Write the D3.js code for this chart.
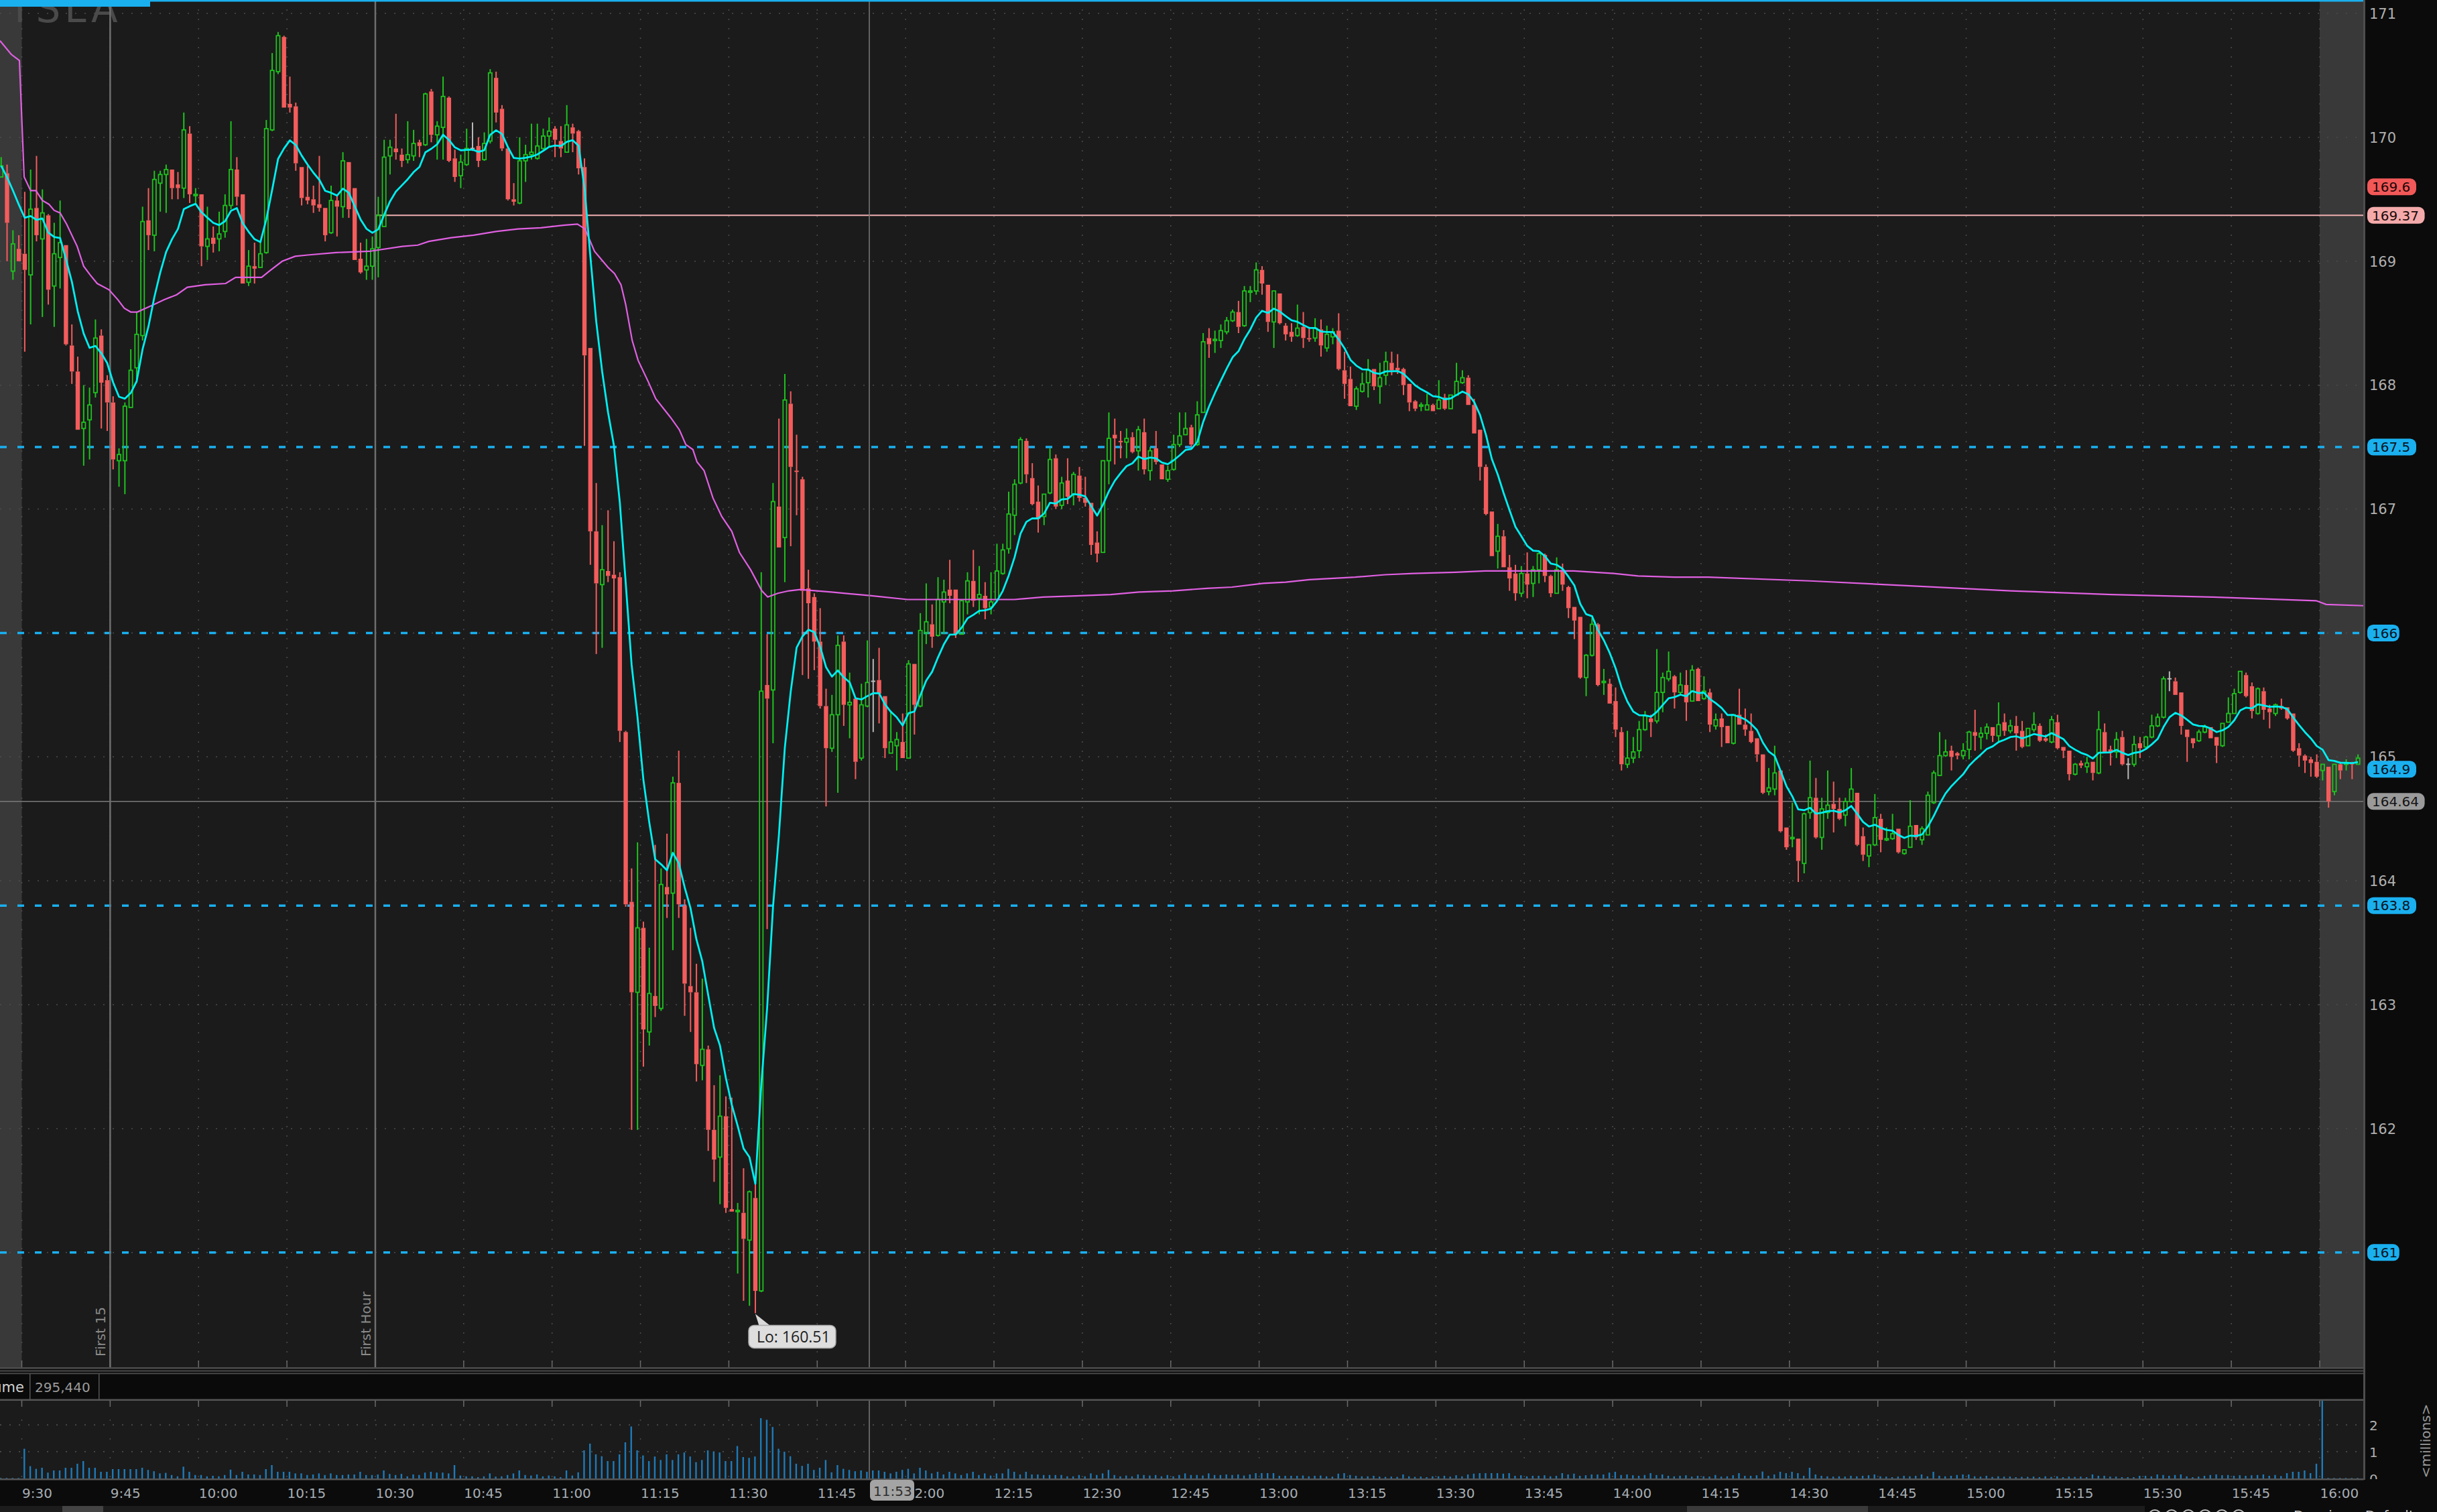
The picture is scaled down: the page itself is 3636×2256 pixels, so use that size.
<!DOCTYPE html>
<html><head><meta charset="utf-8">
<script src="https://cdn.jsdelivr.net/npm/d3@7"></script>
<style>html,body{margin:0;padding:0;background:#0b0b0b;overflow:hidden}</style>
</head><body>
<svg id="c" width="3636" height="2256"></svg>
<script>
// ---------- DATA ----------
const symbol = "TSLA";
const firstMinute = -4; // first candle = 9:26 (minutes from 9:30)
// one-minute candles: [open, high, low, close]
const candles = [
[169.68,169.84,169.68,169.77],[169.71,169.78,169.00,169.31],[168.92,169.25,168.85,169.14],[169.10,169.21,169.00,169.00],
[169.06,169.56,168.27,168.93],[168.89,169.74,168.49,169.42],[169.43,169.85,169.16,169.21],[169.18,169.58,168.55,169.39],[169.37,169.38,168.65,168.77],
[168.80,169.31,168.47,169.06],[169.03,169.49,168.78,169.15],[169.13,169.13,168.32,168.33],[168.32,168.49,168.01,168.11],[168.11,168.23,167.64,167.64],
[167.65,168.00,167.35,167.70],[167.72,167.98,167.40,167.84],[167.94,168.53,167.90,168.38],[168.40,168.45,167.65,168.02],[168.04,168.08,167.63,167.86],
[167.86,167.91,167.32,167.40],[167.39,167.49,167.18,167.44],[167.39,167.86,167.12,167.83],[167.82,168.29,167.82,168.12],[168.14,168.59,168.02,168.41],
[168.40,169.44,168.36,169.32],[169.33,169.59,169.09,169.21],[169.21,169.73,169.08,169.66],[169.63,169.73,169.40,169.70],[169.70,169.78,169.39,169.74],
[169.74,169.74,169.50,169.59],[169.62,169.72,169.50,169.59],[169.59,170.20,169.51,170.06],[170.03,170.09,169.47,169.54],[169.53,169.59,169.47,169.54],
[169.54,169.54,168.96,169.12],[169.12,169.44,169.01,169.18],[169.19,169.28,169.07,169.14],[169.18,169.40,169.08,169.22],[169.24,169.54,169.19,169.45],
[169.45,170.13,169.42,169.74],[169.74,169.84,169.45,169.52],[169.54,169.54,168.82,168.82],[168.83,169.09,168.80,168.96],[168.96,169.15,168.82,168.94],
[168.95,169.15,168.95,169.06],[169.07,170.14,169.06,170.07],[170.06,170.68,170.05,170.54],[170.53,170.85,170.51,170.82],[170.81,170.82,170.24,170.24],
[170.27,170.49,170.20,170.24],[170.25,170.28,169.73,169.79],[169.76,169.76,169.45,169.51],[169.52,169.77,169.46,169.49],[169.50,169.61,169.39,169.45],
[169.46,169.85,169.40,169.43],[169.43,169.43,169.16,169.21],[169.23,169.61,169.22,169.49],[169.49,169.53,169.20,169.44],[169.44,169.88,169.35,169.81],
[169.80,169.80,169.35,169.42],[169.59,169.59,169.01,169.01],[169.02,169.15,168.90,168.91],[168.93,169.18,168.85,168.96],[168.96,169.20,168.85,169.10],
[169.11,169.52,168.87,169.37],[169.28,169.98,169.28,169.84],[169.85,169.98,169.70,169.92],[169.91,170.19,169.82,169.88],[169.86,169.91,169.76,169.81],
[169.82,170.13,169.79,169.86],[169.85,170.06,169.81,169.95],[169.96,169.98,169.84,169.93],[169.94,170.36,169.93,170.35],[170.37,170.39,169.96,170.02],
[170.02,170.13,169.82,170.09],[170.08,170.49,169.82,170.33],[170.32,170.33,169.80,169.81],[169.83,169.90,169.64,169.68],[169.69,169.86,169.59,169.80],
[169.78,170.07,169.77,169.91],[169.91,170.12,169.89,169.91],[169.93,170.00,169.76,169.81],[169.82,170.04,169.81,169.95],[169.97,170.55,169.95,170.52],
[170.48,170.53,170.12,170.20],[170.23,170.26,169.89,169.91],[169.91,169.92,169.49,169.50],[169.50,169.63,169.45,169.48],[169.47,170.00,169.46,169.81],
[169.81,169.94,169.64,169.86],[169.86,170.11,169.82,169.88],[169.83,170.11,169.82,169.93],[169.91,170.07,169.90,170.01],[170.01,170.16,169.92,170.05],
[170.07,170.09,169.84,169.98],[169.97,170.09,169.84,169.91],[169.88,170.26,169.88,170.10],[170.08,170.11,169.88,170.03],[170.05,170.06,169.70,169.75],
[169.76,169.83,167.51,168.24],[168.30,168.30,166.55,166.82],[166.82,167.21,165.83,166.40],[166.39,166.87,165.88,166.51],[166.50,166.99,166.41,166.46],
[166.47,166.74,166.01,166.44],[166.45,166.49,165.12,165.21],[165.20,165.21,163.79,163.81],[163.83,164.10,161.99,163.10],[163.10,164.31,161.99,163.62],
[163.62,163.67,162.50,162.80],[162.78,163.46,162.67,163.09],[163.07,164.29,162.90,162.99],[162.97,164.10,162.95,163.97],[163.95,164.38,163.70,163.89],
[163.90,164.84,163.44,164.79],[164.79,165.05,163.70,163.81],[163.80,163.85,162.91,163.17],[163.15,163.62,162.78,163.10],[163.10,163.33,162.38,162.52],
[162.51,163.21,162.39,162.64],[162.64,162.67,161.82,161.99],[161.99,162.35,161.57,161.75],[161.77,162.43,161.39,162.10],[162.10,162.26,161.32,161.36],
[161.35,162.25,161.33,161.33],[161.33,161.40,160.83,161.34],[161.32,161.68,160.61,161.11],[161.10,161.50,160.57,161.49],[161.44,161.56,160.51,160.69],
[160.69,166.49,160.68,165.53],[165.58,165.99,163.61,165.47],[165.54,167.21,165.11,167.06],[167.02,167.73,166.69,166.69],[166.77,168.09,166.41,167.88],
[167.85,167.95,166.70,167.34],[167.31,167.60,166.95,167.30],[167.24,167.26,165.66,166.34],[166.36,166.51,165.63,166.24],[166.29,166.32,165.70,165.93],
[165.93,166.20,165.39,165.41],[165.41,165.55,164.60,165.07],[165.07,165.50,165.04,165.34],[165.34,165.98,164.71,165.90],[165.93,165.98,165.25,165.42],
[165.42,165.68,165.15,165.44],[165.47,165.47,164.82,164.96],[164.99,165.59,164.97,165.42],[165.41,165.94,165.40,165.60],[165.61,165.79,165.20,165.61],
[165.62,165.88,165.27,165.51],[165.49,165.49,164.99,165.07],[165.03,165.37,165.03,165.12],[165.09,165.20,164.89,165.14],[165.12,165.35,164.99,164.99],
[164.99,165.78,164.99,165.75],[165.75,165.75,165.18,165.42],[165.41,166.16,165.40,166.02],[166.00,166.40,165.91,166.09],[166.07,166.23,165.88,165.97],
[165.98,166.45,165.97,166.27],[166.25,166.43,165.99,166.33],[166.35,166.59,166.24,166.30],[166.35,166.35,165.96,165.99],[165.99,166.27,165.99,166.26],
[166.25,166.49,166.15,166.42],[166.42,166.67,166.21,166.26],[166.28,166.54,166.15,166.31],[166.30,166.41,166.11,166.20],[166.21,166.49,166.15,166.25],
[166.27,166.72,166.26,166.50],[166.48,166.72,166.47,166.67],[166.68,167.14,166.64,166.96],[166.95,167.24,166.79,167.20],[167.21,167.58,167.20,167.56],
[167.55,167.57,167.21,167.28],[167.25,167.37,167.03,167.04],[167.06,167.19,166.81,166.92],[166.94,167.12,166.87,167.12],[167.13,167.49,167.12,167.40],
[167.41,167.44,167.00,167.02],[167.03,167.26,167.00,167.21],[167.23,167.41,167.04,167.10],[167.12,167.30,167.03,167.28],[167.27,167.34,167.06,167.09],
[167.09,167.26,167.02,167.05],[167.05,167.05,166.63,166.71],[166.73,166.82,166.57,166.64],[166.65,167.39,166.65,167.39],[167.39,167.78,167.20,167.57],
[167.60,167.73,167.36,167.57],[167.55,167.63,167.41,167.54],[167.54,167.65,167.41,167.57],[167.58,167.62,167.45,167.46],[167.47,167.67,167.31,167.64],
[167.62,167.73,167.28,167.32],[167.31,167.50,167.23,167.47],[167.49,167.63,167.36,167.38],[167.36,167.36,167.24,167.24],[167.24,167.35,167.22,167.31],
[167.32,167.60,167.31,167.52],[167.52,167.78,167.50,167.59],[167.60,167.78,167.60,167.65],[167.66,167.68,167.50,167.52],[167.52,167.87,167.51,167.76],
[167.78,168.42,167.78,168.35],[168.38,168.46,168.22,168.33],[168.36,168.44,168.26,168.37],[168.36,168.49,168.30,168.44],[168.43,168.55,168.41,168.52],
[168.52,168.61,168.51,168.59],[168.59,168.68,168.42,168.47],[168.48,168.80,168.47,168.76],[168.75,168.80,168.67,168.76],[168.76,168.99,168.73,168.93],
[168.93,168.96,168.73,168.82],[168.81,168.81,168.43,168.51],[168.51,168.76,168.30,168.76],[168.74,168.74,168.49,168.50],[168.48,168.50,168.36,168.41],
[168.43,168.50,168.35,168.39],[168.40,168.65,168.39,168.46],[168.47,168.59,168.30,168.38],[168.38,168.47,168.35,168.37],[168.38,168.54,168.35,168.46],
[168.45,168.53,168.23,168.32],[168.30,168.48,168.27,168.41],[168.39,168.46,168.33,168.43],[168.44,168.58,168.12,168.13],[168.12,168.27,167.89,168.01],
[168.05,168.15,167.83,167.83],[167.83,167.99,167.80,167.97],[167.95,168.10,167.94,168.01],[168.02,168.21,167.90,168.12],[168.13,168.13,167.96,167.99],
[167.99,168.18,167.85,168.06],[168.08,168.27,168.00,168.19],[168.18,168.27,168.08,168.12],[168.14,168.25,168.09,168.12],[168.13,168.14,167.92,168.00],
[168.01,168.01,167.79,167.86],[167.87,167.88,167.79,167.81],[167.83,167.86,167.79,167.84],[167.80,167.93,167.80,167.84],[167.84,167.85,167.79,167.79],
[167.81,168.04,167.81,167.88],[167.90,167.93,167.80,167.81],[167.81,167.92,167.81,167.92],[167.92,168.18,167.92,168.03],[168.02,168.12,168.01,168.06],
[168.06,168.08,167.84,167.84],[167.84,167.89,167.61,167.61],[167.64,167.64,167.23,167.34],[167.34,167.36,166.95,166.96],[166.98,166.98,166.62,166.62],
[166.66,166.88,166.52,166.78],[166.78,166.83,166.53,166.53],[166.53,166.63,166.34,166.44],[166.48,166.55,166.26,166.32],[166.32,166.54,166.29,166.48],
[166.48,166.65,166.28,166.39],[166.40,166.54,166.29,166.51],[166.51,166.65,166.40,166.64],[166.63,166.64,166.41,166.46],[166.46,166.47,166.29,166.32],
[166.32,166.61,166.32,166.51],[166.51,166.56,166.34,166.39],[166.37,166.38,166.12,166.20],[166.21,166.21,165.95,166.10],[166.13,166.13,165.63,165.64],
[165.64,165.83,165.49,165.82],[165.82,166.12,165.81,166.07],[166.07,166.08,165.57,165.58],[165.60,165.71,165.50,165.61],[165.59,165.63,165.43,165.43],
[165.45,165.56,165.16,165.22],[165.20,165.24,164.89,164.94],[164.94,165.21,164.91,164.99],[164.99,165.16,164.95,165.04],[165.05,165.29,164.99,165.22],
[165.22,165.37,165.21,165.33],[165.31,165.34,165.16,165.28],[165.29,165.87,165.27,165.52],[165.52,165.68,165.36,165.64],[165.63,165.85,165.61,165.69],
[165.65,165.66,165.39,165.52],[165.52,165.68,165.50,165.58],[165.58,165.70,165.29,165.44],[165.45,165.74,165.45,165.70],[165.71,165.72,165.45,165.45],
[165.47,165.65,165.46,165.53],[165.52,165.55,165.20,165.26],[165.25,165.35,165.22,165.30],[165.31,165.35,165.08,165.24],[165.25,165.25,165.11,165.11],
[165.11,165.34,165.10,165.34],[165.34,165.55,165.26,165.26],[165.26,165.39,165.17,165.22],[165.21,165.35,165.11,165.12],[165.15,165.15,164.96,165.02],
[165.02,165.02,164.70,164.71],[164.72,164.91,164.69,164.75],[164.74,165.09,164.69,164.87],[164.89,164.89,164.39,164.40],[164.43,164.43,164.25,164.27],
[164.34,164.63,164.27,164.35],[164.34,164.34,163.99,164.16],[164.14,164.55,164.06,164.54],[164.55,164.97,164.50,164.67],[164.67,164.83,164.34,164.35],
[164.35,164.67,164.25,164.58],[164.55,164.89,164.50,164.61],[164.62,164.80,164.39,164.58],[164.58,164.67,164.49,164.50],[164.53,164.67,164.44,164.64],
[164.64,164.91,164.63,164.74],[164.71,164.71,164.28,164.29],[164.36,164.43,164.16,164.21],[164.20,164.29,164.11,164.29],[164.29,164.70,164.28,164.51],
[164.50,164.54,164.23,164.33],[164.33,164.43,164.32,164.34],[164.34,164.54,164.33,164.38],[164.42,164.42,164.22,164.23],[164.22,164.25,164.21,164.25],
[164.27,164.65,164.27,164.44],[164.45,164.45,164.33,164.35],[164.33,164.44,164.29,164.42],[164.37,164.72,164.37,164.69],[164.63,164.89,164.62,164.87],
[164.85,165.20,164.85,165.01],[165.01,165.14,165.00,165.04],[165.05,165.09,164.89,165.00],[165.03,165.04,164.98,165.01],[165.01,165.11,164.98,165.05],
[165.06,165.21,164.98,165.20],[165.20,165.38,165.05,165.17],[165.16,165.24,165.06,165.19],[165.19,165.27,165.14,165.24],[165.24,165.24,165.12,165.17],
[165.17,165.44,165.12,165.26],[165.28,165.35,165.17,165.21],[165.21,165.30,165.19,165.25],[165.25,165.33,165.05,165.19],[165.21,165.29,165.07,165.08],
[165.09,165.23,165.09,165.23],[165.22,165.36,165.20,165.26],[165.25,165.27,165.12,165.13],[165.15,165.18,165.12,165.13],[165.12,165.33,165.11,165.30],
[165.28,165.34,165.06,165.07],[165.08,165.08,164.99,165.05],[165.05,165.05,164.81,164.86],[164.86,164.95,164.85,164.94],[164.95,164.97,164.91,164.93],
[164.92,165.00,164.87,164.95],[164.96,164.96,164.81,164.87],[164.87,165.37,164.86,165.22],[165.20,165.27,165.03,165.04],[165.06,165.09,164.93,165.04],
[165.04,165.20,164.99,165.14],[165.16,165.21,164.93,164.94],[164.94,164.99,164.82,164.94],[164.94,165.17,164.92,165.10],[165.11,165.16,164.99,165.07],
[165.08,165.17,165.07,165.16],[165.16,165.34,165.15,165.25],[165.25,165.35,165.24,165.32],[165.32,165.65,165.31,165.63],[165.63,165.69,165.53,165.63],
[165.61,165.64,165.50,165.50],[165.52,165.52,165.18,165.25],[165.22,165.22,164.96,165.16],[165.15,165.15,165.07,165.11],[165.13,165.22,165.12,165.20],
[165.20,165.26,165.19,165.24],[165.24,165.24,165.15,165.15],[165.16,165.16,164.95,165.09],[165.09,165.27,165.08,165.27],[165.28,165.48,165.28,165.35],
[165.35,165.55,165.35,165.51],[165.52,165.69,165.51,165.69],[165.66,165.68,165.48,165.49],[165.57,165.60,165.31,165.37],[165.35,165.56,165.34,165.55],
[165.53,165.56,165.30,165.38],[165.39,165.42,165.23,165.36],[165.35,165.43,165.33,165.42],[165.41,165.47,165.38,165.39],[165.40,165.40,165.30,165.31],
[165.35,165.35,165.04,165.05],[165.07,165.11,164.92,165.01],[165.01,165.02,164.87,164.97],[164.98,165.00,164.84,164.95],[164.96,165.02,164.83,164.84],
[164.89,164.94,164.81,164.94],[164.92,164.92,164.59,164.64],[164.72,164.94,164.69,164.94],[164.94,164.96,164.82,164.89],[164.94,164.98,164.89,164.95],
[164.95,164.96,164.82,164.94],[164.94,165.02,164.94,164.99]
];
// volume per candle, millions (same order as candles)
const volumes = [
0.02,0.02,0.02,0.02,
1.11,0.46,0.36,0.40,0.22,0.30,0.30,0.40,0.40,0.55,
0.65,0.40,0.40,0.25,0.25,0.35,0.35,0.35,0.35,0.35,
0.40,0.32,0.27,0.19,0.21,0.13,0.08,0.44,0.25,0.13,
0.13,0.08,0.10,0.08,0.13,0.33,0.13,0.25,0.15,0.15,
0.13,0.35,0.50,0.25,0.25,0.25,0.19,0.19,0.13,0.15,
0.19,0.13,0.19,0.13,0.13,0.15,0.15,0.25,0.13,0.13,
0.15,0.30,0.17,0.13,0.17,0.08,0.15,0.13,0.22,0.25,
0.22,0.22,0.19,0.50,0.11,0.08,0.08,0.05,0.08,0.19,
0.07,0.08,0.13,0.19,0.30,0.13,0.11,0.15,0.08,0.11,
0.08,0.05,0.30,0.11,0.23,1.05,1.30,0.90,0.83,0.65,
0.65,0.90,1.35,1.94,1.05,0.86,0.65,0.82,0.69,0.90,
0.69,0.90,0.97,0.82,0.61,0.69,1.05,1.00,0.97,0.65,
0.65,1.21,0.80,0.77,0.82,2.25,2.19,1.92,1.11,1.00,
0.83,0.55,0.47,0.55,0.32,0.40,0.69,0.23,0.50,0.36,
0.32,0.27,0.30,0.25,0.30,0.30,0.25,0.19,0.25,0.32,
0.36,0.19,0.40,0.30,0.19,0.25,0.15,0.25,0.19,0.13,
0.19,0.25,0.13,0.19,0.11,0.19,0.19,0.36,0.25,0.15,
0.25,0.15,0.15,0.13,0.13,0.13,0.13,0.08,0.08,0.13,
0.08,0.19,0.13,0.19,0.32,0.13,0.08,0.11,0.08,0.15,
0.13,0.11,0.13,0.08,0.13,0.08,0.13,0.19,0.13,0.13,
0.11,0.19,0.13,0.13,
0.15,0.13,0.15,0.11,0.15,0.20,0.20,0.20,0.20,0.10,
0.10,0.10,0.10,0.11,0.08,0.10,0.11,0.08,0.07,0.18,
0.20,0.13,0.10,0.08,0.08,0.10,0.07,0.06,0.07,0.06,
0.15,0.08,0.06,0.07,0.05,0.08,0.08,0.10,0.07,0.12,
0.08,0.15,0.18,0.20,0.20,0.20,0.20,0.18,0.20,0.10,
0.12,0.08,0.10,0.10,0.12,0.08,0.10,0.20,0.15,0.18,
0.10,0.12,0.15,0.15,0.15,0.22,0.25,0.13,0.15,0.12,
0.10,0.13,0.20,0.13,0.15,0.10,0.08,0.10,0.12,0.07,
0.10,0.08,0.07,0.13,0.07,0.08,0.12,0.20,0.10,0.10,
0.12,0.26,0.10,0.15,0.25,0.20,0.25,0.20,0.10,0.40,
0.15,0.10,0.08,0.07,0.08,0.07,0.10,0.08,0.10,0.12,
0.15,0.08,0.07,0.05,0.07,0.10,0.08,0.10,0.15,0.08,
0.25,0.10,0.08,0.10,0.13,0.15,0.15,0.08,0.07,0.10,
0.06,0.08,0.07,0.07,0.05,0.06,0.06,0.07,0.05,0.08,
0.06,0.08,0.05,0.07,0.06,0.07,0.05,0.15,0.10,0.10,
0.07,0.07,0.05,0.05,0.05,0.10,0.10,0.08,0.15,0.13,
0.10,0.13,0.15,0.08,0.05,0.07,0.10,0.13,0.15,0.12,
0.13,0.10,0.12,0.10,0.12,0.13,0.15,0.10,0.13,0.09,
0.20,0.25,0.25,0.30,0.20,0.55,3.60,
0.02,0.02,0.02,0.02,0.02,0.02
];
// VWAP (magenta): minutes from 9:30, price
const vwapT = [-3.7,-1.8,-0.4,0.4,1.5,2.4,3.5,4.6,5.5,6.5,7.6,9.4,10.5,11.6,12.8,14.8,16.3,17.4,18.5,19.6,22.4,24.2,26.3,28.1,31.1,34.6,36.3,40.7,42.0,44.2,46.4,48.5,53.3,59.0,64.6,67.2,69.1,72.9,76.7,80.5,84.2,88.1,91.9,94.3,95.6,97.2,99.5,100.6,101.7,102.5,103.6,104.6,106.3,107.6,110.1,111.6,112.7,113.9,114.6,115.8,117.3,118.8,120.5,121.8,123.7,125.6,126.6,128.3,130.2,132.1,137.4,144.2,150.3,168.5,173.3,179.6,184.8,189.6,195.4,201.1,205.4,210.7,214.5,218.5,226.3,231.4,236.2,243.3,248.4,263.4,270.2,274.3,280.4,286.2,303.5,320.5,337.6,354.7,371.7,389.4,391.1,397.5];
const vwapV = [170.78,170.67,170.62,169.68,169.57,169.57,169.49,169.46,169.41,169.39,169.30,169.12,168.96,168.89,168.82,168.77,168.69,168.62,168.59,168.59,168.65,168.69,168.73,168.79,168.81,168.82,168.87,168.87,168.92,169.00,169.04,169.05,169.07,169.08,169.12,169.13,169.16,169.19,169.21,169.24,169.26,169.27,169.29,169.30,169.26,169.08,168.95,168.90,168.81,168.65,168.36,168.20,168.03,167.89,167.74,167.64,167.52,167.48,167.38,167.31,167.09,166.94,166.82,166.65,166.51,166.34,166.29,166.32,166.34,166.35,166.33,166.30,166.27,166.27,166.29,166.30,166.31,166.33,166.34,166.36,166.37,166.40,166.41,166.43,166.45,166.47,166.48,166.49,166.50,166.50,166.48,166.46,166.45,166.45,166.42,166.38,166.34,166.31,166.29,166.26,166.23,166.22];
const emaPeriod = 9;
const priceTicks = [161,162,163,164,165,166,167,168,169,170,171];
const timeTickMinutes = [0,15,30,45,60,75,90,105,120,135,150,165,180,195,210,225,240,255,270,285,300,315,330,345,360,375,390];
const timeLabels = ["9:30","9:45","10:00","10:15","10:30","10:45","11:00","11:15","11:30","11:45","12:00","12:15","12:30","12:45","13:00","13:15","13:30","13:45","14:00","14:15","14:30","14:45","15:00","15:15","15:30","15:45","16:00"];
const levelPrices = [167.5,166,163.8,161];
const levelLabels = ["167.5","166","163.8","161"];
const markerPrices = [169.6,169.37,164.9,164.64];
const markerLabels = ["169.6","169.37","164.9","164.64"];
const referenceLine = 169.37;
const cursorPrice = 164.64, cursorMinute = 143, cursorLabel = "11:53";
const volumeTicks = [0,1,2];
const volumeReadout = "295,440";

// ---------- LAYOUT ----------
const W=3636, H=2256, PR=3527, MB=2040, VT=2090, VB=2206;
const FONT = "'DejaVu Sans', sans-serif";
const GREEN='#1ec21e', RED='#f45c5c', GRAYC='#b8b8b8', BLUE='#1ab0ef';
const svg = d3.select('#c');
const x = d3.scaleLinear().domain([0,390]).range([32.5,3461]);
const y = d3.scaleLinear().domain([161,171]).range([1868.8,20]);
const yv = d3.scaleLinear().domain([0,2]).range([VB,2126]);

const defs = svg.append('defs');
defs.append('clipPath').attr('id','cm').append('rect').attr('x',0).attr('y',0).attr('width',PR).attr('height',MB);
defs.append('clipPath').attr('id','cv').append('rect').attr('x',0).attr('y',VT).attr('width',PR).attr('height',VB-VT);
defs.append('clipPath').attr('id','cvl').append('rect').attr('x',PR).attr('y',VT).attr('width',W-PR).attr('height',VB-VT+1);

svg.append('rect').attr('width',W).attr('height',H).attr('fill','#0b0b0b');
svg.append('rect').attr('x',0).attr('y',0).attr('width',PR).attr('height',MB).attr('fill','#1b1b1b');
svg.append('rect').attr('x',0).attr('y',0).attr('width',x(0)).attr('height',MB).attr('fill','#393939');
svg.append('rect').attr('x',x(390)).attr('y',0).attr('width',PR-x(390)).attr('height',MB).attr('fill','#393939');

const main = svg.append('g').attr('clip-path','url(#cm)');
// watermark
main.append('text').attr('x',12).attr('y',33).attr('font-family',FONT)
  .attr('font-size',58).attr('fill','#4a4a4a').attr('letter-spacing',6).text(symbol);
// grid
main.selectAll('.hg').data(priceTicks).enter().append('line')
  .attr('x1',0).attr('x2',PR).attr('y1',d=>y(d)).attr('y2',d=>y(d))
  .attr('stroke','#4c4c4c').attr('stroke-width',1.5).attr('stroke-dasharray','2,12');
main.selectAll('.vg').data(timeTickMinutes).enter().append('line')
  .attr('x1',d=>x(d)).attr('x2',d=>x(d)).attr('y1',0).attr('y2',MB)
  .attr('stroke','#4c4c4c').attr('stroke-width',1.5).attr('stroke-dasharray','2,12');
main.selectAll('.tm').data(timeTickMinutes).enter().append('line')
  .attr('x1',d=>x(d)).attr('x2',d=>x(d)).attr('y1',MB-10).attr('y2',MB)
  .attr('stroke','#6a6a6a').attr('stroke-width',1.5);
// level lines
main.selectAll('.lv').data(levelPrices).enter().append('line')
  .attr('x1',0).attr('x2',PR).attr('y1',d=>y(d)).attr('y2',d=>y(d))
  .attr('stroke',BLUE).attr('stroke-width',3.5).attr('stroke-dasharray','10,16');
// reference (first hour) line
main.append('line').attr('x1',x(60)).attr('x2',PR).attr('y1',y(referenceLine)).attr('y2',y(referenceLine))
  .attr('stroke','#f0b0b0').attr('stroke-width',2);
// crosshair
main.append('line').attr('x1',0).attr('x2',PR).attr('y1',y(cursorPrice)).attr('y2',y(cursorPrice))
  .attr('stroke','#7a7a7a').attr('stroke-width',1.5);
// session marker lines
[[15,'First 15'],[60,'First Hour']].forEach(([m,t])=>{
  main.append('line').attr('x1',x(m)).attr('x2',x(m)).attr('y1',0).attr('y2',MB)
    .attr('stroke','#6e6e6e').attr('stroke-width',2.5);
  main.append('text').attr('transform',`translate(${x(m)-7},${MB-16}) rotate(-90)`)
    .attr('font-family',FONT).attr('font-size',20).attr('fill','#8a8a8a').text(t);
});

// candles
const cg = main.append('g');
candles.forEach((c,k)=>{
  const [o,h,l,cl] = c;
  const cx = x(firstMinute + k + 0.5);
  const col = cl>o ? GREEN : (cl<o ? RED : GRAYC);
  const top = Math.max(o,cl), bot = Math.min(o,cl);
  cg.append('rect').attr('x',cx-1).attr('width',2).attr('y',y(h)).attr('height',Math.max(0,y(top)-y(h))).attr('fill',col);
  cg.append('rect').attr('x',cx-1).attr('width',2).attr('y',y(bot)).attr('height',Math.max(0,y(l)-y(bot))).attr('fill',col);
  const bh = Math.max(2, y(bot)-y(top));
  if (cl>o) {
    cg.append('rect').attr('x',cx-2.6).attr('width',5.2).attr('y',y(top)).attr('height',bh)
      .attr('fill','none').attr('stroke',col).attr('stroke-width',1.8);
  } else {
    cg.append('rect').attr('x',cx-3.2).attr('width',6.4).attr('y',y(top)-(cl===o?1:0)).attr('height',bh).attr('fill',col);
  }
});
// VWAP
main.append('path').datum(vwapT.map((t,i)=>[t,vwapV[i]]))
  .attr('d',d3.line().x(d=>x(d[0])).y(d=>y(d[1])))
  .attr('fill','none').attr('stroke','#e060e2').attr('stroke-width',2.2);
// EMA of closes
const alpha = 2/(emaPeriod+1);
const ema = [];
candles.forEach((c,k)=>{ ema.push(k===0 ? c[3] : ema[k-1] + alpha*(c[3]-ema[k-1])); });
main.append('path').datum(ema)
  .attr('d',d3.line().x((d,k)=>x(firstMinute+k+0.5)).y(d=>y(d)))
  .attr('fill','none').attr('stroke','#00eef0').attr('stroke-width',2.8).attr('stroke-linejoin','round');
// vertical crosshair
const curX = x(cursorMinute+0.5)+3;
svg.append('line').attr('x1',curX).attr('x2',curX).attr('y1',0).attr('y2',MB)
  .attr('stroke','#7a7a7a').attr('stroke-width',1.5);

// Low callout
const li = d3.minIndex(candles,d=>d[2]);
const lx = x(firstMinute+li+0.5), ly = y(candles[li][2]);
svg.append('path').attr('d',`M${lx},${ly+1} L${lx+6},${ly+20} L${lx+24},${ly+20} Z`).attr('fill','#d9d9d9');
svg.append('rect').attr('x',lx-10).attr('y',ly+18).attr('width',130).attr('height',34).attr('rx',8)
  .attr('fill','#dedede').attr('stroke','#a9a9a9').attr('stroke-width',1.5);
svg.append('text').attr('x',lx+2).attr('y',ly+44).attr('font-family',"'Open Sans', sans-serif").attr('font-size',23)
  .attr('fill','#1e1e1e').text('Lo: '+d3.format('.2f')(candles[li][2]));

// top blue strip
svg.append('rect').attr('x',0).attr('y',0).attr('width',224).attr('height',10).attr('fill',BLUE);
svg.append('rect').attr('x',224).attr('y',0).attr('width',PR-224).attr('height',2.5).attr('fill',BLUE);

// separators below main
[[2040,2.5],[2044.5,2],[2048.5,2]].forEach(([yy,hh])=>svg.append('rect').attr('x',0).attr('y',yy).attr('width',PR).attr('height',hh).attr('fill','#4d4d4d'));
svg.append('rect').attr('x',0).attr('y',2050.5).attr('width',PR).attr('height',37.5).attr('fill','#0a0a0a');
[44,147].forEach(xx=>svg.append('rect').attr('x',xx).attr('y',2050).attr('width',1.5).attr('height',38).attr('fill','#555'));
svg.append('text').attr('x',36).attr('y',2077).attr('text-anchor','end').attr('font-family',FONT).attr('font-size',21).attr('fill','#d0d0d0').text('Volume');
svg.append('text').attr('x',52).attr('y',2077).attr('font-family',FONT).attr('font-size',20).attr('fill','#9a9a9a').text(volumeReadout);
svg.append('rect').attr('x',0).attr('y',2087.5).attr('width',PR).attr('height',2.5).attr('fill','#555');
// volume panel
svg.append('rect').attr('x',0).attr('y',VT).attr('width',PR).attr('height',VB-VT).attr('fill','#1b1b1b');
const vol = svg.append('g').attr('clip-path','url(#cv)');
vol.selectAll('.vh').data([1,2]).enter().append('line').attr('x1',0).attr('x2',PR).attr('y1',d=>yv(d)).attr('y2',d=>yv(d))
  .attr('stroke','#555').attr('stroke-width',1.5).attr('stroke-dasharray','2,12');
vol.selectAll('.vv').data(timeTickMinutes).enter().append('line').attr('x1',d=>x(d)).attr('x2',d=>x(d)).attr('y1',VT).attr('y2',VB)
  .attr('stroke','#4a4a4a').attr('stroke-width',1.5).attr('stroke-dasharray','2,26');
vol.selectAll('.vt').data(timeTickMinutes).enter().append('line').attr('x1',d=>x(d)).attr('x2',d=>x(d)).attr('y1',VT).attr('y2',VT+9)
  .attr('stroke','#6a6a6a').attr('stroke-width',1.5);
vol.selectAll('.vb').data(volumes).enter().append('rect')
  .attr('x',(d,k)=>x(firstMinute+k+0.5)-1.8).attr('width',2.4)
  .attr('y',d=>yv(d)).attr('height',d=>VB-yv(d)).attr('fill','#1e7ab8');
vol.append('line').attr('x1',curX).attr('x2',curX).attr('y1',VT).attr('y2',VB)
  .attr('stroke','#7a7a7a').attr('stroke-width',1.5);
svg.append('rect').attr('x',0).attr('y',VB).attr('width',PR).attr('height',2.5).attr('fill','#555');
// right border
svg.append('rect').attr('x',PR-1).attr('y',0).attr('width',3).attr('height',VB+2).attr('fill','#4d4d4d');

// price axis
const pa = svg.append('g').attr('transform',`translate(${PR+4},0)`)
  .call(d3.axisRight(y).tickValues(priceTicks).tickSize(0).tickPadding(4).tickFormat(d3.format('d')));
pa.select('.domain').remove();
pa.selectAll('text').attr('font-family',FONT).attr('font-size',21).attr('fill','#b0b0b0').attr('dy','0.35em');
// marker boxes
function box(v,t,bg,fg){
  const w = t.length*12.6+10;
  svg.append('rect').attr('x',3532).attr('y',y(v)-12.5).attr('width',w).attr('height',25).attr('rx',9).attr('fill',bg);
  svg.append('text').attr('x',3539).attr('y',y(v)).attr('dy','0.36em').attr('font-family',FONT).attr('font-size',20)
    .attr('fill',fg).text(t);
}
levelPrices.forEach((p,i)=>box(p,levelLabels[i],BLUE,'#06121a'));
box(markerPrices[0],markerLabels[0],'#f25858','#1a0606');
box(markerPrices[1],markerLabels[1],'#f4aaaa','#1a0a0a');
box(markerPrices[2],markerLabels[2],BLUE,'#06121a');
box(markerPrices[3],markerLabels[3],'#9a9a9a','#141414');

// volume axis
const va = svg.append('g').attr('clip-path','url(#cvl)').append('g').attr('transform',`translate(${PR+4},0)`)
  .call(d3.axisRight(yv).tickValues(volumeTicks).tickSize(0).tickPadding(4).tickFormat(d3.format('d')));
va.select('.domain').remove();
va.selectAll('text').attr('font-family',FONT).attr('font-size',20).attr('fill','#b0b0b0').attr('dy','0.35em');
svg.append('text').attr('transform','translate(3626,2150) rotate(-90)').attr('text-anchor','middle')
  .attr('font-family',FONT).attr('font-size',20).attr('fill','#9a9a9a').text('<millions>');

// time axis
const ta = svg.append('g').attr('transform','translate(0,2235)')
  .call(d3.axisBottom(x).tickValues(timeTickMinutes).tickSize(0).tickFormat((d,i)=>timeLabels[i]));
ta.select('.domain').remove();
ta.selectAll('text').attr('y',0).attr('dy',0).attr('text-anchor','start').attr('font-family',FONT)
  .attr('font-size',20).attr('fill','#a6adb4');
// cursor time box
const cxp = curX+1;
svg.append('rect').attr('x',cxp).attr('y',2208).attr('width',66).attr('height',31).attr('rx',6).attr('fill','#a4a4a4');
svg.append('text').attr('x',cxp+5).attr('y',2232).attr('font-family',FONT).attr('font-size',20).attr('fill','#2e2e2e').text(cursorLabel);

// scrollbar strip
svg.append('rect').attr('x',0).attr('y',2247).attr('width',3200).attr('height',9).attr('fill','#1c1c1c');
svg.append('rect').attr('x',93).attr('y',2247).attr('width',61).attr('height',9).attr('fill','#444');
svg.append('rect').attr('x',2517).attr('y',2247).attr('width',270).attr('height',9).attr('fill','#3a3a3a');
svg.append('text').attr('x',3422).attr('y',2268).attr('font-family',FONT).attr('font-size',20).attr('fill','#c8c8c8').text('Drawings: Default');
[3215,3240,3265,3290,3315,3340].forEach(xx=>svg.append('circle').attr('cx',xx).attr('cy',2262).attr('r',9).attr('fill','none').attr('stroke','#bbb').attr('stroke-width',2));
</script>
</body></html>
